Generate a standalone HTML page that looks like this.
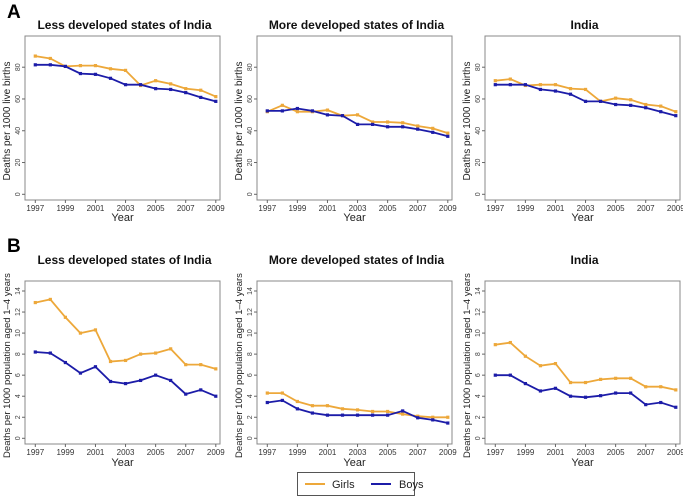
<!DOCTYPE html>
<html><head><meta charset="utf-8"><style>
body{margin:0;background:#fff;}
svg{display:block;font-family:"Liberation Sans",sans-serif;}
</style></head><body>
<svg id="chart" width="683" height="499"></svg>
<script>
const years=[1997,1998,1999,2000,2001,2002,2003,2004,2005,2006,2007,2008,2009];
const xTickLabels=[1997,1999,2001,2003,2005,2007,2009];
const yTicksA=[0,20,40,60,80];
const yTicksB=[0,2,4,6,8,10,12,14];
const titles=["Less developed states of India","More developed states of India","India"];
const aLessGirls=[87,85.5,80.5,81,81,79,78,68.5,71.5,69.5,66.5,65.5,61.5];
const aLessBoys=[81.5,81.5,80.5,76,75.5,73,69,69,66.5,66,64,61,58.5];
const aMoreGirls=[52,56,52,52,53,49.5,50,45.5,45.5,45,43,41.5,38.5];
const aMoreBoys=[52.5,52.5,54,52.5,50,49.5,44,44,42.5,42.5,41,39,36.5];
const aIndiaGirls=[71.5,72.5,68.5,69,69,66.5,66,58.5,60.5,59.5,56.5,55.5,52];
const aIndiaBoys=[69,69,69,66,65,63,58.5,58.5,56.5,56,54.5,52,49.5];
const bLessGirls=[12.9,13.2,11.5,10,10.3,7.3,7.4,8,8.1,8.5,7,7,6.6];
const bLessBoys=[8.2,8.1,7.2,6.2,6.8,5.4,5.2,5.5,6,5.5,4.2,4.6,4.0];
const bMoreGirls=[4.3,4.3,3.5,3.1,3.1,2.8,2.7,2.55,2.55,2.3,2.1,2.0,2.0];
const bMoreBoys=[3.4,3.6,2.8,2.4,2.2,2.2,2.2,2.2,2.2,2.6,1.95,1.75,1.45];
const bIndiaGirls=[8.9,9.1,7.8,6.9,7.1,5.3,5.3,5.6,5.7,5.7,4.9,4.9,4.6];
const bIndiaBoys=[6.0,6.0,5.2,4.5,4.75,4.0,3.9,4.05,4.3,4.3,3.2,3.4,2.95];

const GIRL="#eda83a",BOY="#1c1ca8";
const svg=document.getElementById('chart');
const NS="http://www.w3.org/2000/svg";
function mk(tag,attrs,parent,text){const e=document.createElementNS(NS,tag);for(const k in attrs)e.setAttribute(k,attrs[k]);if(text!==undefined)e.textContent=text;(parent||svg).appendChild(e);return e;}

const boxXs=[25,257,485];
const rowA={top:36,bottom:200,y0:194.3,yRef:80,yRefPx:67.2,ticks:yTicksA,label:"Deaths per 1000 live births",titleY:29,yearY:221,series:[[aLessGirls,aLessBoys],[aMoreGirls,aMoreBoys],[aIndiaGirls,aIndiaBoys]],key:'a',lfs:10};
const rowB={top:281,bottom:444,y0:438.3,yRef:14,yRefPx:291,ticks:yTicksB,label:"Deaths per 1000 population aged 1\u20134 years",titleY:264,yearY:466,series:[[bLessGirls,bLessBoys],[bMoreGirls,bMoreBoys],[bIndiaGirls,bIndiaBoys]],key:'b',lfs:9.5};

function drawPanel(row,pi){
  const bx=boxXs[pi],bw=195;
  const g=mk('g',{});
  
  
  const xs=v=>bx+10.3+(v-1997)*(180.5/12);
  const ys=v=>row.y0-(v)*(row.y0-row.yRefPx)/row.yRef;
  const t=mk('text',{x:bx+bw/2+2,y:row.titleY,'text-anchor':'middle','font-size':12,'font-weight':'bold',fill:'#111'},g,titles[pi]);
  
  
  const box=mk('rect',{x:bx,y:row.top,width:bw,height:row.bottom-row.top,fill:'none',stroke:'#888','stroke-width':1},g);
  
  
  row.ticks.forEach(v=>{const y=ys(v);
    mk('line',{x1:bx-3,x2:bx,y1:y,y2:y,stroke:'#666'},g);
    const tl=mk('text',{x:bx-5,y:y,'font-size':7,fill:'#444','text-anchor':'middle',transform:`rotate(-90 ${bx-5} ${y})`},g,v);
    
    
  });
  xTickLabels.forEach(v=>{const x=xs(v);
    mk('line',{x1:x,x2:x,y1:row.bottom,y2:row.bottom+3,stroke:'#666'},g);
    const tl=mk('text',{x:x,y:row.bottom+11,'font-size':8,fill:'#333','text-anchor':'middle'},g,v);
    
    
  });
  const xl=mk('text',{x:bx+bw/2,y:row.yearY,'text-anchor':'middle','font-size':11,fill:'#222'},g,'Year');
  
  
  const lx=bx-15,ly=(row.top+row.bottom)/2+3;
  const yl=mk('text',{x:lx,y:ly,'text-anchor':'middle','font-size':row.lfs,fill:'#222',transform:`rotate(-90 ${lx} ${ly})`},g,row.label);
  
  
  const [girls,boys]=row.series[pi];
  [[girls,GIRL,'girls'],[boys,BOY,'boys']].forEach(([arr,col,nm])=>{
    const pts=arr.map((v,i)=>xs(years[i]).toFixed(1)+','+ys(v).toFixed(1)).join(' ');
    const pl=mk('polyline',{points:pts,fill:'none',stroke:col,'stroke-width':1.8},g);
    
    
    arr.forEach((v,i)=>{const r=mk('rect',{x:xs(years[i])-1.6,y:ys(v)-1.6,width:3.2,height:3.2,fill:col},g);
      
      });
  });
}
[0,1,2].forEach(i=>{drawPanel(rowA,i);drawPanel(rowB,i);});
const la=mk('text',{x:7,y:18,'font-size':19,'font-weight':'bold',fill:'#000'},svg,'A');


const lb=mk('text',{x:7,y:252,'font-size':19,'font-weight':'bold',fill:'#000'},svg,'B');


const lg=mk('g',{});


mk('rect',{x:297.5,y:472.5,width:117,height:23,fill:'#fff',stroke:'#555'},lg);
mk('line',{x1:305,x2:325,y1:484,y2:484,stroke:GIRL,'stroke-width':2},lg);
const g1=mk('text',{x:332,y:488,'font-size':11,fill:'#222'},lg,'Girls');


mk('line',{x1:371,x2:391,y1:484,y2:484,stroke:BOY,'stroke-width':2},lg);
const g2=mk('text',{x:399,y:488,'font-size':11,fill:'#222'},lg,'Boys');


</script>
</body></html>
